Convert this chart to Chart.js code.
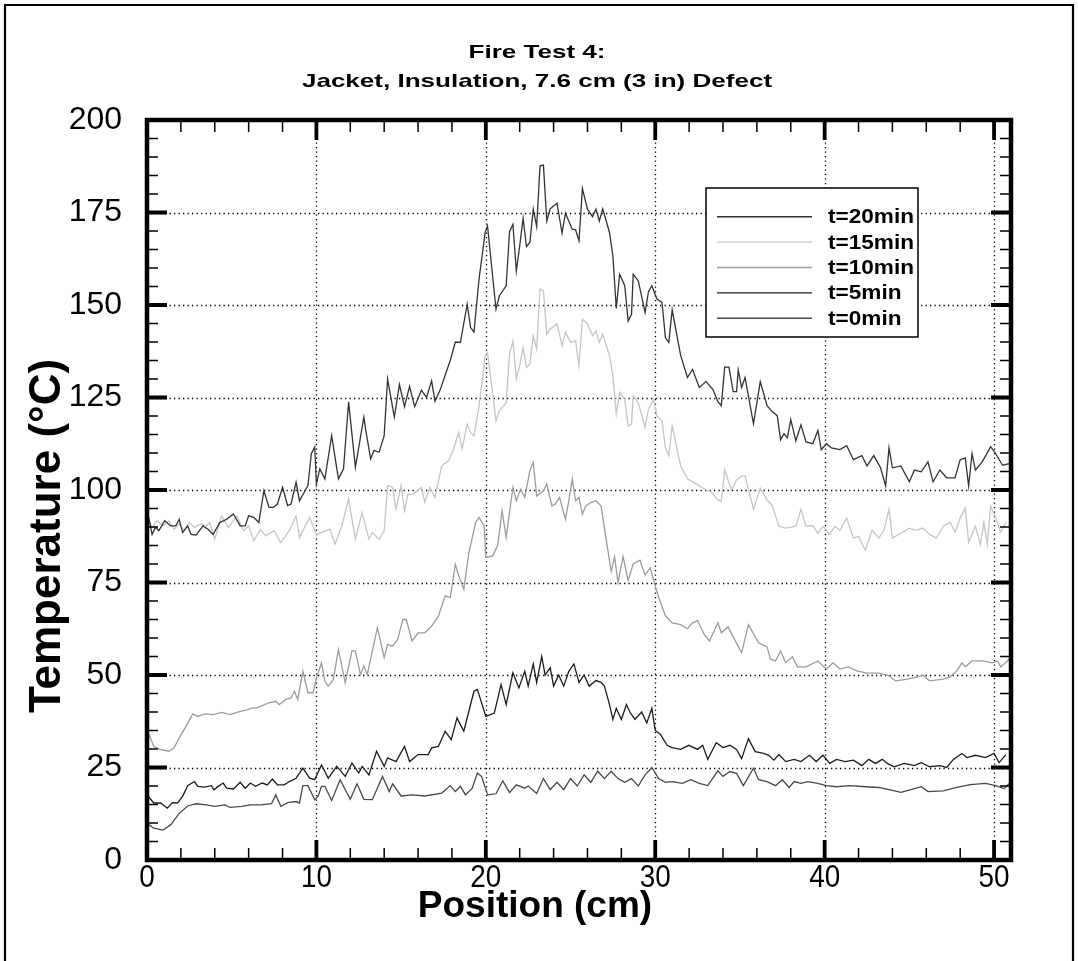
<!DOCTYPE html>
<html>
<head>
<meta charset="utf-8">
<title>Fire Test 4</title>
<script src="https://cdn.jsdelivr.net/npm/chart.js@4.4.0/dist/chart.umd.min.js"></script>
<style>
  html, body { margin: 0; padding: 0; background: #fff; }
  #wrap { position: relative; width: 1078px; height: 961px; }
</style>
</head>
<body>
<div id="wrap"><canvas id="chart" width="1078" height="961"></canvas></div>
<script>
const titleLines = ["Fire Test 4:", "Jacket, Insulation, 7.6 cm (3 in) Defect"];
const xTitle = "Position (cm)";
const yTitle = "Temperature (°C)";
const seriesLabels = ["t=20min", "t=15min", "t=10min", "t=5min", "t=0min"];
const seriesColors = ["#333333", "#c6c6c6", "#9c9c9c", "#1c1c1c", "#484848"];
const xMajor = [0, 10, 20, 30, 40, 50];
const xMinor = [2, 4, 6, 8, 12, 14, 16, 18, 22, 24, 26, 28, 32, 34, 36, 38, 42, 44, 46, 48];
const yMajor = [0, 25, 50, 75, 100, 125, 150, 175, 200];
const yMinor = [5, 10, 15, 20, 30, 35, 40, 45, 55, 60, 65, 70, 80, 85, 90, 95, 105, 110, 115, 120,
                130, 135, 140, 145, 155, 160, 165, 170, 180, 185, 190, 195];

// [position cm, temperature °C]
const t20 = [[0.1,92.6],[0.3,88],[0.5,89.9],[0.7,89],[1.05,91.7],[1.4,90.3],[1.7,90.3],[1.9,92.1],[2.1,88.5],[2.4,90.3],[2.6,88],[2.9,87.8],[3.3,90.3],[3.6,89.4],[3.9,88],[4.3,91.2],[4.7,92.1],[5.1,93.5],[5.5,90.3],[5.8,90.3],[6.0,93],[6.3,92.6],[6.6,91.2],[6.9,99.8],[7.2,95.3],[7.45,95.3],[7.7,96.2],[8.0,100.7],[8.3,95.8],[8.5,96.2],[8.8,102.1],[9.0,97.1],[9.5,101.2],[9.7,109.8],[9.9,111.6],[10.0,101.6],[10.2,105.7],[10.5,103],[10.9,114.7],[11.3,103],[11.6,105.7],[11.9,123.8],[12.3,106.1],[12.8,119.7],[12.9,116.5],[13.2,108.4],[13.4,110.7],[13.7,110.2],[14.0,114.7],[14.2,130],[14.6,119.7],[14.9,128.5],[15.2,122.5],[15.5,128],[15.8,122.5],[16.2,127],[16.5,125],[16.8,129.5],[17.0,124],[17.3,127],[17.6,131],[17.9,135],[18.2,140],[18.5,139.9],[18.9,150.2],[19.1,143.9],[19.3,142.7],[19.6,157],[19.96,169.6],[20.1,171.4],[20.6,148.9],[20.8,152.5],[21.2,155.2],[21.4,169.8],[21.6,171.8],[21.8,159.2],[22.0,166],[22.2,173.4],[22.4,165.8],[22.6,166.9],[22.8,175.9],[23.0,171.2],[23.2,187.6],[23.4,187.8],[23.6,172.7],[23.8,176],[24.2,177.5],[24.5,169.4],[24.7,174.8],[25.1,170.5],[25.3,170.3],[25.5,167.3],[25.7,181.5],[26.0,175.9],[26.3,173.9],[26.5,175.9],[26.7,172.7],[26.9,176],[27.3,169.6],[27.5,163.3],[27.7,149.1],[27.9,158.3],[28.2,155.2],[28.4,145.7],[28.6,147.5],[28.7,158.3],[29.0,156.5],[29.4,148],[29.6,153.6],[29.8,155.2],[30.1,151.6],[30.4,150.7],[30.6,141.2],[30.8,139.9],[31.0,148.7],[31.5,136.4],[31.9,130.4],[32.2,132.6],[32.6,127.7],[33.0,129.3],[33.4,127.2],[33.7,123.9],[33.9,122.8],[34.1,133.2],[34.35,133.2],[34.6,126.6],[34.8,126.6],[34.9,132.4],[35.1,127.7],[35.3,130.4],[35.8,117.9],[36.2,129.3],[36.6,122.8],[36.9,121.2],[37.2,120.1],[37.4,113.6],[37.6,115.2],[37.8,114.1],[38.0,119],[38.3,113.3],[38.6,117.6],[38.9,113],[39.3,112.5],[39.6,116.1],[39.8,110.9],[40.1,112.5],[40.4,111.4],[40.9,110.9],[41.3,112],[41.7,108.2],[42.2,109.3],[42.5,106.5],[42.9,109.3],[43.3,106],[43.6,101.1],[43.8,111.4],[44.0,106],[44.5,106.5],[45.0,102.2],[45.3,105.4],[45.7,104.9],[46.1,107.6],[46.4,102.2],[46.8,105.4],[47.2,103.3],[47.7,103.3],[48.0,108.2],[48.3,108.7],[48.5,101.1],[48.7,109.8],[48.9,105.4],[49.3,107.6],[49.8,111.7],[50.1,109.8],[50.5,106.7],[50.9,107.1]];
const t15 = [[0.1,92.1],[0.3,89.9],[0.6,91.7],[0.95,90.3],[1.3,91.7],[1.6,89.4],[1.9,90.8],[2.2,89],[2.5,91.2],[2.8,89.9],[3.2,90.8],[3.5,90.3],[3.7,91.2],[4.0,86.7],[4.4,93],[4.8,89.9],[5.3,93],[5.7,89],[6.0,90.3],[6.3,86.3],[6.7,89.4],[7.0,87.6],[7.5,89],[7.9,85.8],[8.4,89],[8.8,93],[9.0,87.2],[9.6,92.6],[10.0,88],[10.8,89.4],[11.1,85.4],[11.5,90.3],[11.9,97.6],[12.3,86.7],[12.7,93.9],[13.1,86.7],[13.3,88.5],[13.7,86.7],[14.0,89],[14.2,101.2],[14.5,100.7],[14.7,94.9],[15.0,101.2],[15.2,94.4],[15.4,98.9],[15.7,98.9],[16.2,100.7],[16.4,96.7],[16.7,100.7],[17.0,98],[17.4,106.6],[17.8,107.9],[18.1,111.1],[18.4,115.6],[18.6,111.1],[18.9,117.8],[19.1,115.5],[19.3,114.6],[19.6,122.7],[19.96,136.3],[20.1,137.2],[20.6,118.7],[20.8,121.4],[21.2,123.6],[21.4,136.7],[21.6,140.3],[21.8,130],[22.0,133.6],[22.2,138.5],[22.4,133.1],[22.6,134],[22.8,141.7],[23.0,138.1],[23.2,154.3],[23.4,153.8],[23.6,142.1],[23.8,143.5],[24.2,144.9],[24.5,139],[24.7,142.6],[25.0,139.9],[25.3,140.3],[25.5,133.6],[25.7,146.2],[26.0,144.9],[26.3,141.7],[26.5,143],[26.7,139.9],[26.9,142.1],[27.3,136.3],[27.5,130.9],[27.7,120.5],[27.9,126.4],[28.2,124.5],[28.4,117.3],[28.6,117.8],[28.7,125.5],[29.0,123.6],[29.4,116.9],[29.6,121.8],[29.9,124.5],[30.1,120],[30.4,118.7],[30.6,111.5],[30.8,109.2],[31.0,117.3],[31.5,106.5],[31.9,103],[32.2,102.2],[32.6,101.1],[33.0,100],[33.3,99.5],[33.7,97.3],[33.9,97],[34.1,105.4],[34.5,100],[34.8,102.7],[35.1,103.8],[35.3,103.8],[35.8,94.8],[36.2,100.5],[36.6,97.3],[36.9,95.9],[37.3,90.2],[37.7,89.7],[38.3,90.2],[38.6,94.8],[38.9,90.2],[39.3,90.4],[39.6,88.3],[39.9,90.2],[40.3,88],[40.6,90.2],[40.9,89.1],[41.3,92.4],[41.7,87],[42.0,87.5],[42.4,83.7],[42.8,89.1],[43.2,87],[43.5,89.1],[43.8,94.8],[44.0,87],[44.6,88.6],[45.0,89.7],[45.4,89.1],[45.8,89.7],[46.2,88],[46.6,87],[47.0,90.2],[47.4,91.3],[47.7,88.6],[48.0,92.4],[48.3,95.1],[48.5,85.9],[48.9,90.2],[49.2,85.3],[49.4,91.3],[49.6,85.3],[49.8,95.7],[50.1,92.4],[50.4,88.6],[50.7,91.3]];
const t10 = [[0,35.2],[0.4,30.7],[0.8,29.8],[1.3,29.4],[1.6,30.3],[1.9,33],[2.3,36.1],[2.7,39.5],[3.0,38.8],[3.4,39.5],[3.9,39.3],[4.4,39.9],[4.9,39.3],[5.5,40.2],[5.9,40.6],[6.2,41.1],[6.5,41.1],[6.8,41.7],[7.2,42.5],[7.6,42.9],[7.8,42],[8.2,43.4],[8.5,43.8],[8.7,45.6],[8.9,43.4],[9.2,51],[9.5,45.2],[9.8,45.2],[10.0,49.2],[10.3,53.3],[10.5,48.3],[10.7,47],[11.0,48.8],[11.3,56.9],[11.7,47.9],[12.1,56.5],[12.3,56.5],[12.6,50.1],[12.8,52.4],[13.0,50.1],[13.6,62.8],[14.0,54.7],[14.2,58.3],[14.5,57.8],[14.8,59.6],[15.1,65],[15.3,65],[15.65,59.2],[16.0,61.4],[16.4,61.4],[16.8,63.2],[17.2,65.9],[17.6,71.4],[17.9,70.9],[18.2,79.9],[18.4,76.8],[18.7,73.2],[19.0,83.1],[19.4,91.2],[19.6,92.6],[19.9,90.3],[20.0,81.8],[20.4,82.2],[20.7,85],[20.96,94.4],[21.2,87.2],[21.6,100.7],[21.8,97.1],[22.05,100.2],[22.3,98],[22.6,105.2],[22.8,107.4],[23.0,98.4],[23.4,99.8],[23.6,101.6],[23.9,95.7],[24.1,96.2],[24.35,98],[24.7,92.1],[24.9,97.1],[25.1,103],[25.3,97.1],[25.5,98],[25.7,93.5],[25.9,95.7],[26.2,96.6],[26.5,97.1],[26.8,95.7],[27.1,86.7],[27.4,78],[27.6,82],[27.8,75],[28.1,82],[28.4,75.5],[28.7,80],[29.1,81],[29.4,77],[29.7,79],[30.0,74],[30.2,71],[30.6,66],[31.0,64.1],[31.5,63.6],[31.9,62.5],[32.2,64.1],[32.5,64.7],[32.9,60.9],[33.2,59.2],[33.7,64.1],[33.9,61.4],[34.3,63],[34.6,60.3],[35.1,56],[35.5,63.6],[36.1,58.7],[36.6,57.6],[36.8,54.3],[37.1,53.8],[37.4,56.5],[37.7,53.3],[38.1,54.9],[38.4,52.2],[38.9,52.2],[39.6,53.8],[40.1,51.6],[40.5,53.3],[40.9,51.6],[41.4,52.2],[41.9,51.1],[42.5,50.5],[43.2,50.5],[43.7,50],[44.2,48.4],[44.9,48.9],[45.5,49.5],[45.8,50],[46.2,48.4],[47.0,48.9],[47.4,49.5],[47.8,51.1],[48.1,53.3],[48.3,52.2],[48.7,53.8],[49.3,53.8],[49.9,53.3],[50.2,53.8],[50.4,52.2],[50.9,54.3]];
const t5 = [[0,17.6],[0.4,15.4],[0.8,15.4],[1.2,14],[1.5,15.5],[1.8,15.4],[2.1,17.2],[2.4,20.1],[2.8,21.2],[3.0,19.9],[3.4,19.7],[3.8,20.1],[3.95,19],[4.2,19.9],[4.5,20.8],[4.7,19.4],[5.1,19.2],[5.5,21],[5.8,19.4],[6.1,20.8],[6.4,19.9],[6.8,20.8],[7.1,20.3],[7.4,21.9],[7.7,20.3],[8.1,20.3],[8.4,21.2],[8.8,22.1],[9.2,24.8],[9.6,22.1],[9.9,21.7],[10.3,25.7],[10.7,22.1],[11.2,25.3],[11.7,22.6],[12.1,26.2],[12.5,23.5],[12.7,25.3],[13.1,23],[13.55,29.4],[14.0,25.3],[14.2,27.6],[14.7,26.6],[15.2,30.7],[15.5,26.6],[16.0,28.5],[16.6,28.5],[16.8,30.3],[17.2,30.7],[17.6,34.8],[17.96,32.5],[18.3,38.4],[18.7,34.8],[19.3,45.6],[19.5,46.1],[20.0,38.8],[20.5,39.7],[20.9,47.4],[21.2,42],[21.6,50.6],[21.95,46.5],[22.3,51],[22.5,47],[22.8,53],[23.0,48],[23.3,55],[23.5,50],[23.8,52],[24.0,47],[24.3,50],[24.6,47],[24.9,51],[25.2,53],[25.5,48],[25.8,50],[26.1,47],[26.5,48.5],[26.8,48],[27.0,47],[27.3,42],[27.5,38],[27.7,41],[28.0,38],[28.3,42],[28.5,40],[28.8,38],[29.2,40],[29.5,37],[29.8,41],[30.0,35],[30.3,34],[30.7,31],[31.0,30.4],[31.5,29.9],[31.98,31],[32.5,29.9],[32.8,31],[33.1,27.2],[33.6,31.7],[34.0,30.4],[34.4,31],[34.8,29.9],[35.1,27.4],[35.5,32.8],[35.9,29.3],[36.4,28.8],[36.7,28.3],[37.0,27],[37.3,28.5],[37.7,26.6],[38.2,27.2],[38.6,26.6],[39.1,28.3],[39.5,26.6],[39.9,28.3],[40.3,26.1],[40.7,27.2],[41.2,26.6],[41.7,27],[42.2,25.5],[42.6,27.2],[43.0,26.1],[43.4,27.2],[43.7,26.1],[44.1,25.2],[44.7,26.1],[45.3,25.5],[45.7,26.3],[46.2,25.2],[46.8,25.5],[47.2,25],[47.6,27.2],[48.1,28.8],[48.4,27.7],[48.9,28.3],[49.5,27.7],[50.0,28.8],[50.3,26.3],[50.7,28.5]];
const t0 = [[0,9.9],[0.4,8.6],[0.95,8.1],[1.4,9.5],[1.9,12.6],[2.4,14.6],[2.9,15.2],[3.5,14.9],[4.0,14.5],[4.6,14.9],[4.9,14.2],[5.6,14.5],[6.1,14.9],[6.7,14.9],[7.35,15.2],[7.6,17.6],[7.9,14.5],[8.3,15.5],[8.8,15.8],[9.0,15.4],[9.2,20.1],[9.5,20.1],[9.9,16.3],[10.1,17.2],[10.3,19.9],[10.5,19.9],[10.9,16.1],[11.4,21.7],[12.0,16.4],[12.4,20.6],[12.8,16.4],[13.3,16.3],[13.9,22.6],[14.3,18.5],[14.5,20.6],[15.0,17.3],[15.65,17.6],[16.4,17.3],[17.4,18.1],[17.9,20.1],[18.2,18.5],[18.5,19.9],[18.8,17.6],[19.2,19.4],[19.5,23.5],[19.75,22.6],[20.1,17.6],[20.6,17.9],[21.0,21.4],[21.4,18.2],[21.8,20.3],[22.3,19.4],[22.5,20],[23.0,18],[23.4,22],[23.8,19],[24.2,21],[24.6,19],[25.0,22],[25.4,20],[25.8,23],[26.2,21],[26.6,24],[27.0,22],[27.4,24],[27.8,22],[28.2,21],[28.6,22],[29.0,20],[29.4,23],[29.8,25],[30.2,22],[30.6,21],[31.0,21.2],[31.6,20.7],[32.1,21.7],[32.6,20.7],[33.1,20.1],[33.7,24.1],[34.0,22.6],[34.4,23.9],[34.8,23.4],[35.2,20.1],[35.8,24.8],[36.1,21.7],[36.6,21.2],[37.1,20.1],[37.5,21.7],[37.9,19.6],[38.2,21.2],[38.6,20.7],[39.0,21.2],[39.6,20.7],[40.1,20.1],[40.7,19.8],[41.5,20.1],[42.4,19.8],[43.2,19.6],[43.8,19],[44.5,18.3],[45.1,19],[45.7,19.8],[46.1,18.5],[47.0,18.7],[47.8,19.6],[48.6,20.4],[49.5,20.7],[50.1,20.1],[50.6,19.3],[50.9,20.7]];

const allSeries = [t20, t15, t10, t5, t0];
const FONT = "'Liberation Sans', Arial, Helvetica, sans-serif";

// text with an optional horizontal stretch (the original art uses wide lettering)
function stretchText(ctx, str, x, y, font, sx, align, rot) {
  ctx.save();
  ctx.font = font;
  ctx.fillStyle = "#000";
  ctx.textAlign = align || "center";
  ctx.textBaseline = "middle";
  ctx.translate(x, y);
  if (rot) ctx.rotate(rot);
  ctx.scale(sx, 1);
  ctx.fillText(str, 0, 0);
  ctx.restore();
}

const plotDecor = {
  id: "plotDecor",
  beforeDraw(chart) {
    const ctx = chart.ctx;
    ctx.save();
    ctx.fillStyle = "#fff";
    ctx.fillRect(0, 0, chart.width, chart.height);
    ctx.strokeStyle = "#000";
    ctx.lineWidth = 2.2;
    ctx.beginPath();
    ctx.moveTo(5, chart.height);
    ctx.lineTo(5, 5);
    ctx.lineTo(1073, 5);
    ctx.lineTo(1073, chart.height);
    ctx.stroke();
    ctx.restore();
  },
  beforeDatasetsDraw(chart) {
    // dotted grid at the major ticks
    const { ctx, chartArea: a, scales: { x, y } } = chart;
    ctx.save();
    ctx.strokeStyle = "#000";
    ctx.lineWidth = 1.3;
    ctx.setLineDash([1.3, 3.2]);
    ctx.beginPath();
    xMajor.forEach(v => {
      const px = Math.round(x.getPixelForValue(v)) + 0.5;
      ctx.moveTo(px, a.top); ctx.lineTo(px, a.bottom);
    });
    yMajor.forEach(v => {
      const py = Math.round(y.getPixelForValue(v)) + 0.5;
      ctx.moveTo(a.left, py); ctx.lineTo(a.right, py);
    });
    ctx.stroke();
    ctx.restore();
  },
  afterDatasetsDraw(chart) {
    const { ctx, chartArea: a, scales: { x, y } } = chart;
    ctx.save();
    ctx.strokeStyle = "#000";
    const tickX = (list, len, w) => {
      ctx.lineWidth = w;
      ctx.beginPath();
      list.forEach(v => {
        const px = x.getPixelForValue(v);
        ctx.moveTo(px, a.bottom); ctx.lineTo(px, a.bottom - len);
        ctx.moveTo(px, a.top); ctx.lineTo(px, a.top + len);
      });
      ctx.stroke();
    };
    const tickY = (list, len, w) => {
      ctx.lineWidth = w;
      ctx.beginPath();
      list.forEach(v => {
        const py = y.getPixelForValue(v);
        ctx.moveTo(a.left, py); ctx.lineTo(a.left + len, py);
        ctx.moveTo(a.right, py); ctx.lineTo(a.right - len, py);
      });
      ctx.stroke();
    };
    tickX(xMinor, 12, 1.5);
    tickY(yMinor, 11, 1.5);
    tickX(xMajor, 20, 3.8);
    tickY(yMajor, 20, 3.8);
    ctx.lineWidth = 4.5;
    ctx.strokeRect(a.left, a.top, a.right - a.left, a.bottom - a.top);
    ctx.restore();

    // tick labels
    yMajor.forEach(v => stretchText(ctx, String(v), a.left - 25, y.getPixelForValue(v), "31px " + FONT, 1.03, "right"));
    xMajor.forEach(v => stretchText(ctx, String(v), x.getPixelForValue(v), a.bottom + 18, "31px " + FONT, 0.9, "center"));
  },
  afterDraw(chart) {
    const { ctx } = chart;
    // titles
    stretchText(ctx, titleLines[0], 537, 53, "bold 19px " + FONT, 1.37);
    stretchText(ctx, titleLines[1], 537, 82, "bold 19px " + FONT, 1.37);
    stretchText(ctx, xTitle, 535, 907, "bold 37px " + FONT, 1.0);
    stretchText(ctx, yTitle, 48, 536, "bold 44px " + FONT, 1.0, "center", -Math.PI / 2);

    // legend box
    ctx.save();
    const lx = 706, ly = 188, lw = 212, lh = 149;
    ctx.fillStyle = "#fff";
    ctx.fillRect(lx, ly, lw, lh);
    ctx.strokeStyle = "#000";
    ctx.lineWidth = 1.5;
    ctx.strokeRect(lx, ly, lw, lh);
    chart.data.datasets.forEach((ds, i) => {
      const ry = 216.7 + i * 25.4;
      ctx.strokeStyle = ds.borderColor;
      ctx.lineWidth = 1.4;
      ctx.beginPath();
      ctx.moveTo(717, ry); ctx.lineTo(812, ry);
      ctx.stroke();
      stretchText(ctx, ds.label, 828, ry + 1, "bold 20px " + FONT, 1.13, "left");
    });
    ctx.restore();
  }
};

new Chart(document.getElementById("chart"), {
  type: "scatter",
  data: {
    datasets: allSeries.map((pts, i) => ({
      label: seriesLabels[i],
      data: pts.map(p => ({ x: p[0], y: p[1] })),
      showLine: true,
      borderColor: seriesColors[i],
      backgroundColor: seriesColors[i],
      borderWidth: 1.3,
      pointRadius: 0,
      tension: 0
    }))
  },
  options: {
    responsive: false,
    animation: false,
    events: [],
    layout: { padding: { left: 7, right: 67, top: 120, bottom: 21 } },
    plugins: {
      legend: { display: false },
      tooltip: { enabled: false },
      title: { display: false }
    },
    scales: {
      x: {
        type: "linear",
        min: 0,
        max: 51,
        afterFit(scale) { scale.height = 80; },
        afterBuildTicks(scale) { scale.ticks = xMajor.map(v => ({ value: v })); },
        grid: { display: false, drawTicks: false },
        border: { display: false },
        ticks: { display: false }
      },
      y: {
        type: "linear",
        min: 0,
        max: 200,
        afterFit(scale) { scale.width = 140; },
        afterBuildTicks(scale) { scale.ticks = yMajor.map(v => ({ value: v })); },
        grid: { display: false, drawTicks: false },
        border: { display: false },
        ticks: { display: false }
      }
    }
  },
  plugins: [plotDecor]
});
</script>
</body>
</html>
